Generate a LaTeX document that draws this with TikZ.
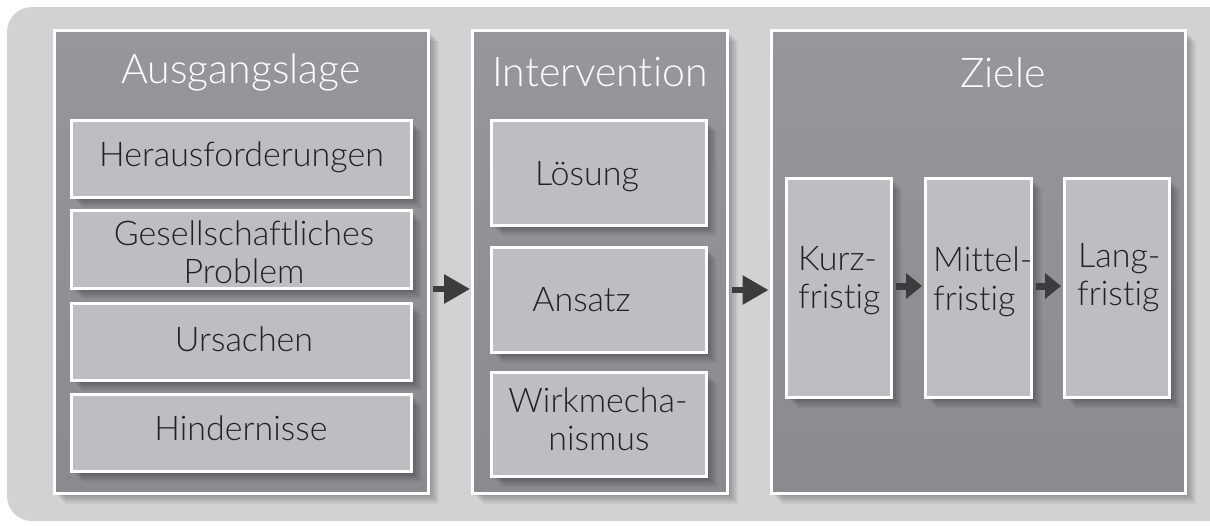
\documentclass[tikz,border=0pt]{standalone}
\usepackage{fontspec}
\setmainfont{Lato}[UprightFont={* Light}, Ligatures={NoCommon,NoRare,NoDiscretionary}]
\usetikzlibrary{arrows.meta,shadows}
\definecolor{bggray}{RGB}{209,210,212}
\definecolor{paneltop}{RGB}{150,151,155}
\definecolor{panelbot}{RGB}{138,139,143}
\definecolor{boxgray}{RGB}{189,190,194}
\definecolor{txtdark}{RGB}{35,33,34}
\definecolor{arrowgray}{RGB}{60,60,62}
\tikzset{
  softshadow/.style={
    general shadow={fill=black, opacity=0.07, shadow xshift=2pt, shadow yshift=-2pt},
    general shadow={fill=black, opacity=0.07, shadow xshift=4pt, shadow yshift=-4pt},
    general shadow={fill=black, opacity=0.07, shadow xshift=6pt, shadow yshift=-6pt},
    general shadow={fill=black, opacity=0.06, shadow xshift=8pt, shadow yshift=-8pt},
    general shadow={fill=black, opacity=0.05, shadow xshift=10pt, shadow yshift=-10pt}},
  panel/.style={softshadow, draw=white, line width=3pt, top color=paneltop, bottom color=panelbot,
    inner sep=0pt, minimum height=463pt},
  itembox/.style={softshadow, draw=white, line width=3pt, fill=boxgray, inner sep=0pt},
  title/.style={text=white, font=\fontsize{41}{45}\selectfont, inner sep=0pt, anchor=base},
  label/.style={text=txtdark, font=\fontsize{34}{38}\selectfont, inner sep=0pt, anchor=base},
  lefttext/.style={label, anchor=base west},
  bigarrow/.style={draw=arrowgray, line width=6pt, -{Triangle[length=26pt,width=28pt]}},
  smallarrow/.style={draw=arrowgray, line width=7pt, -{Triangle[length=16pt,width=25pt]}}
}
\begin{document}
\begin{tikzpicture}[x=1pt,y=-1pt]
\useasboundingbox (0,0) rectangle (1210,525);
\clip (0,0) rectangle (1210,525);
\fill[white] (0,0) rectangle (1210,525);
\fill[bggray, rounded corners=25pt] (7,7) rectangle (1260,521);

% panels
\node[panel, minimum width=374pt] (p1) at (241.5,262) {};
\node[panel, minimum width=255pt] (p2) at (600,262) {};
\node[panel, minimum width=414pt] (p3) at (978.5,262) {};

% titles
\node[title] (t1) at (241,83) {Ausgangslage};
\node[title] (t2) at (600,86) {Intervention};
\node[title] (t3) at (1003,87) {Ziele};

% Ausgangslage boxes
\node[itembox, minimum width=340pt, minimum height=77pt] (a1) at (241.5,159) {};
\node[itembox, minimum width=340pt, minimum height=78pt] (a2) at (241.5,249.5) {};
\node[itembox, minimum width=340pt, minimum height=77pt] (a3) at (241.5,342) {};
\node[itembox, minimum width=340pt, minimum height=77pt] (a4) at (241.5,433) {};
\node[label] (a1t) at (241.5,166) {Herausforderungen};
\node[label] (a2t) at (244,245) {Gesellschaftliches};
\node[label] (a2u) at (244,283) {Problem};
\node[label] (a3t) at (244,351) {Ursachen};
\node[label] (a4t) at (241,440) {Hindernisse};

% Intervention boxes
\node[itembox, minimum width=215pt, minimum height=105pt] (i1) at (599,173) {};
\node[itembox, minimum width=215pt, minimum height=105pt] (i2) at (599,300) {};
\node[itembox, minimum width=215pt, minimum height=104pt] (i3) at (599,424.5) {};
\node[label] (i1t) at (587,185) {Lösung};
\node[label] (i2t) at (581.5,311) {Ansatz};
\node[label] (i3t) at (598,412) {Wirkmecha-};
\node[label] (i3u) at (599,450) {nismus};

% Ziele boxes
\node[itembox, minimum width=105pt, minimum height=219pt] (z1) at (839,288) {};
\node[itembox, minimum width=106pt, minimum height=219pt] (z2) at (978.5,288) {};
\node[itembox, minimum width=105pt, minimum height=219pt] (z3) at (1117,288) {};
\node[lefttext] (z1t) at (798,270) {Kurz-};
\node[lefttext] (z1u) at (798,308) {fristig};
\node[lefttext] (z2t) at (933,271) {Mittel-};
\node[lefttext] (z2u) at (933,310) {fristig};
\node[lefttext] (z3t) at (1078,267) {Lang-};
\node[lefttext] (z3u) at (1077,305) {fristig};

% arrows
\draw[bigarrow] ([xshift=2.5pt,yshift=-27pt]p1.east) -- ([xshift=-1pt,yshift=-27pt]p2.west);
\draw[bigarrow] ([xshift=3pt,yshift=-28pt]p2.east) -- ([xshift=-1.5pt,yshift=-28pt]p3.west);
\draw[smallarrow] ([xshift=3pt,yshift=2pt]z1.east) -- ([xshift=-2pt,yshift=2pt]z2.west);
\draw[smallarrow] ([xshift=3pt,yshift=2pt]z2.east) -- ([xshift=-2pt,yshift=2pt]z3.west);
\end{tikzpicture}
\end{document}
